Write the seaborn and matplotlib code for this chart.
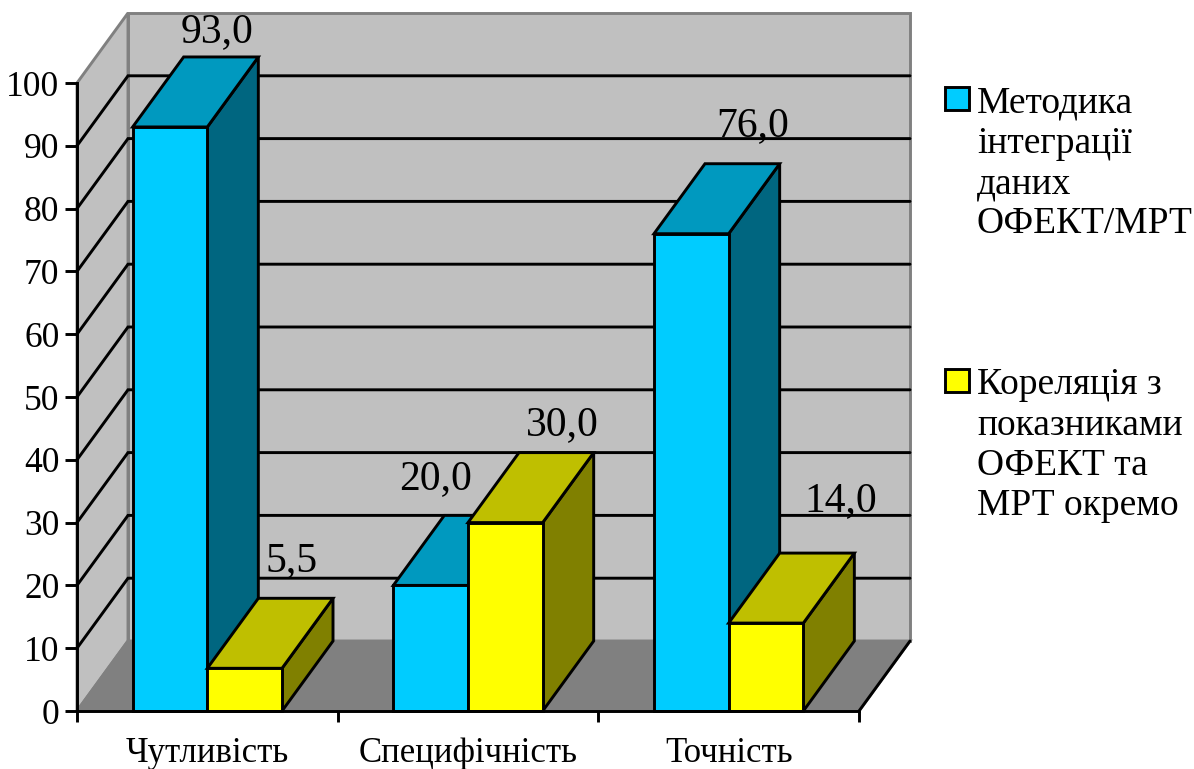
import matplotlib.pyplot as plt
import pandas as pd
import seaborn as sns
from matplotlib.patches import Rectangle

categories = ["Чутливість", "Специфічність", "Точність"]
series_names = [
	"Методика\nінтеграції\nданих\nОФЕКТ/МРТ",
	"Кореляція з\nпоказниками\nОФЕКТ та\nМРТ окремо",
]
integration_values = [93.0, 20.0, 76.0]
correlation_values = [6.8, 30.0, 14.0]
integration_labels = ["93,0", "20,0", "76,0"]
correlation_labels = ["5,5", "30,0", "14,0"]
y_ticks = list(range(0, 101, 10))

W, H = 1194, 769
LW = 2.1
DEPTH_PX = (51, 70)
# label offset from the top centre of each front face, in pixels
LABEL_OFFSETS = [[(47, 85), (5, 96), (61, 98)], [(47, 97), (57, 88), (75, 112)]]
FRONT = ["#00CCFF", "#FFFF00"]
TOP = ["#0099BF", "#BFBF00"]
SIDE = ["#006680", "#808000"]


def main() -> None:
	sns.set_theme(style="white")
	plt.rcParams["font.family"] = ["Liberation Serif", "DejaVu Serif"]

	df = pd.DataFrame(
		{
			"category": categories * 2,
			"value": integration_values + correlation_values,
			"series": [series_names[0]] * 3 + [series_names[1]] * 3,
		}
	)

	fig = plt.figure(figsize=(W / 100, H / 100), dpi=100)
	ax = fig.add_axes([77 / W, (H - 711) / H, 782 / W, 628 / H])
	sns.barplot(
		data=df,
		x="category",
		y="value",
		hue="series",
		palette=FRONT,
		saturation=1,
		width=0.573,
		gap=0,
		edgecolor="black",
		linewidth=LW,
		legend=False,
		ax=ax,
	)
	ax.set_xlim(-0.5, 2.5)
	ax.set_ylim(0, 100)
	ax.set_xlabel("")
	ax.set_ylabel("")

	dx = DEPTH_PX[0] / (782 / 3)
	dy = DEPTH_PX[1] / (628 / 100)
	x0, x1 = -0.5, 2.5

	# walls and floor
	wall = dict(edgecolor="#808080", linewidth=LW, clip_on=False, joinstyle="miter")
	ax.fill(
		[x0 + dx, x1 + dx, x1 + dx, x0 + dx],
		[dy, dy, 100 + dy, 100 + dy],
		facecolor="#C0C0C0",
		zorder=0.1,
		**wall,
	)
	ax.fill(
		[x0, x0 + dx, x0 + dx, x0],
		[0, dy, 100 + dy, 100],
		facecolor="#C0C0C0",
		zorder=0.1,
		**wall,
	)
	ax.fill(
		[x0, x1, x1 + dx, x0 + dx],
		[0, 0, dy, dy],
		facecolor="#808080",
		zorder=0.1,
		**wall,
	)

	# gridlines run along the left wall and across the back wall
	for v in y_ticks[1:-1]:
		ax.plot(
			[x0, x0 + dx, x1 + dx],
			[v, v + dy, v + dy],
			color="black",
			lw=LW,
			clip_on=False,
			zorder=0.2,
			solid_joinstyle="miter",
		)
	ax.plot([x1, x1 + dx], [0, dy], color="black", lw=LW, clip_on=False, zorder=0.2)

	# extrude bars, painted left to right
	labels = [integration_labels, correlation_labels]
	for s, container in enumerate(ax.containers):
		for c, bar in enumerate(container):
			x, w, h = bar.get_x(), bar.get_width(), bar.get_height()
			z = 2 + c * 2 + s * 0.5
			box = dict(
				edgecolor="black",
				linewidth=LW,
				clip_on=False,
				zorder=z,
				joinstyle="miter",
			)
			ax.fill(
				[x + w, x + w + dx, x + w + dx, x + w],
				[0, dy, h + dy, h],
				facecolor=SIDE[s],
				**box,
			)
			ax.fill(
				[x, x + w, x + w + dx, x + dx],
				[h, h, h + dy, h + dy],
				facecolor=TOP[s],
				**box,
			)
			bar.set_zorder(z + 0.1)
			bar.set_clip_on(False)
			bar.set_joinstyle("miter")
			off = LABEL_OFFSETS[s][c]
			ax.annotate(
				labels[s][c],
				xy=(x + w / 2, h),
				xytext=(off[0] * 0.72, off[1] * 0.72),
				textcoords="offset points",
				ha="center",
				va="baseline",
				fontsize=30,
				color="black",
				zorder=20,
			)

	for side in ("top", "right"):
		ax.spines[side].set_visible(False)
	for side in ("left", "bottom"):
		ax.spines[side].set_color("black")
		ax.spines[side].set_linewidth(LW)
		ax.spines[side].set_zorder(15)

	ax.set_yticks(y_ticks)
	ax.tick_params(
		axis="y",
		left=True,
		length=8.6,
		width=LW,
		color="black",
		labelsize=25.5,
		labelcolor="black",
		pad=4,
	)
	ax.set_xticks([-0.5, 0.5, 1.5, 2.5])
	ax.set_xticklabels([])
	ax.set_xticks([0, 1, 2], labels=categories, minor=True)
	ax.tick_params(axis="x", which="major", bottom=True, length=8, width=LW, color="black")
	ax.tick_params(
		axis="x",
		which="minor",
		bottom=False,
		length=0,
		labelsize=25,
		labelcolor="black",
		pad=18.5,
	)

	# legend swatch sits beside the first line of its entry
	for name, color, swatch_top, text_top in zip(series_names, FRONT, [87, 369], [86, 368]):
		fig.add_artist(
			Rectangle(
				(945 / W, 1 - (swatch_top + 23) / H),
				24 / W,
				23 / H,
				transform=fig.transFigure,
				facecolor=color,
				edgecolor="black",
				linewidth=LW,
			)
		)
		fig.text(
			977 / W,
			1 - text_top / H,
			name,
			ha="left",
			va="top",
			fontsize=27,
			color="black",
			linespacing=1.22,
		)

	fig.savefig("out.png", dpi=100)
	plt.close(fig)


if __name__ == "__main__":
	main()
